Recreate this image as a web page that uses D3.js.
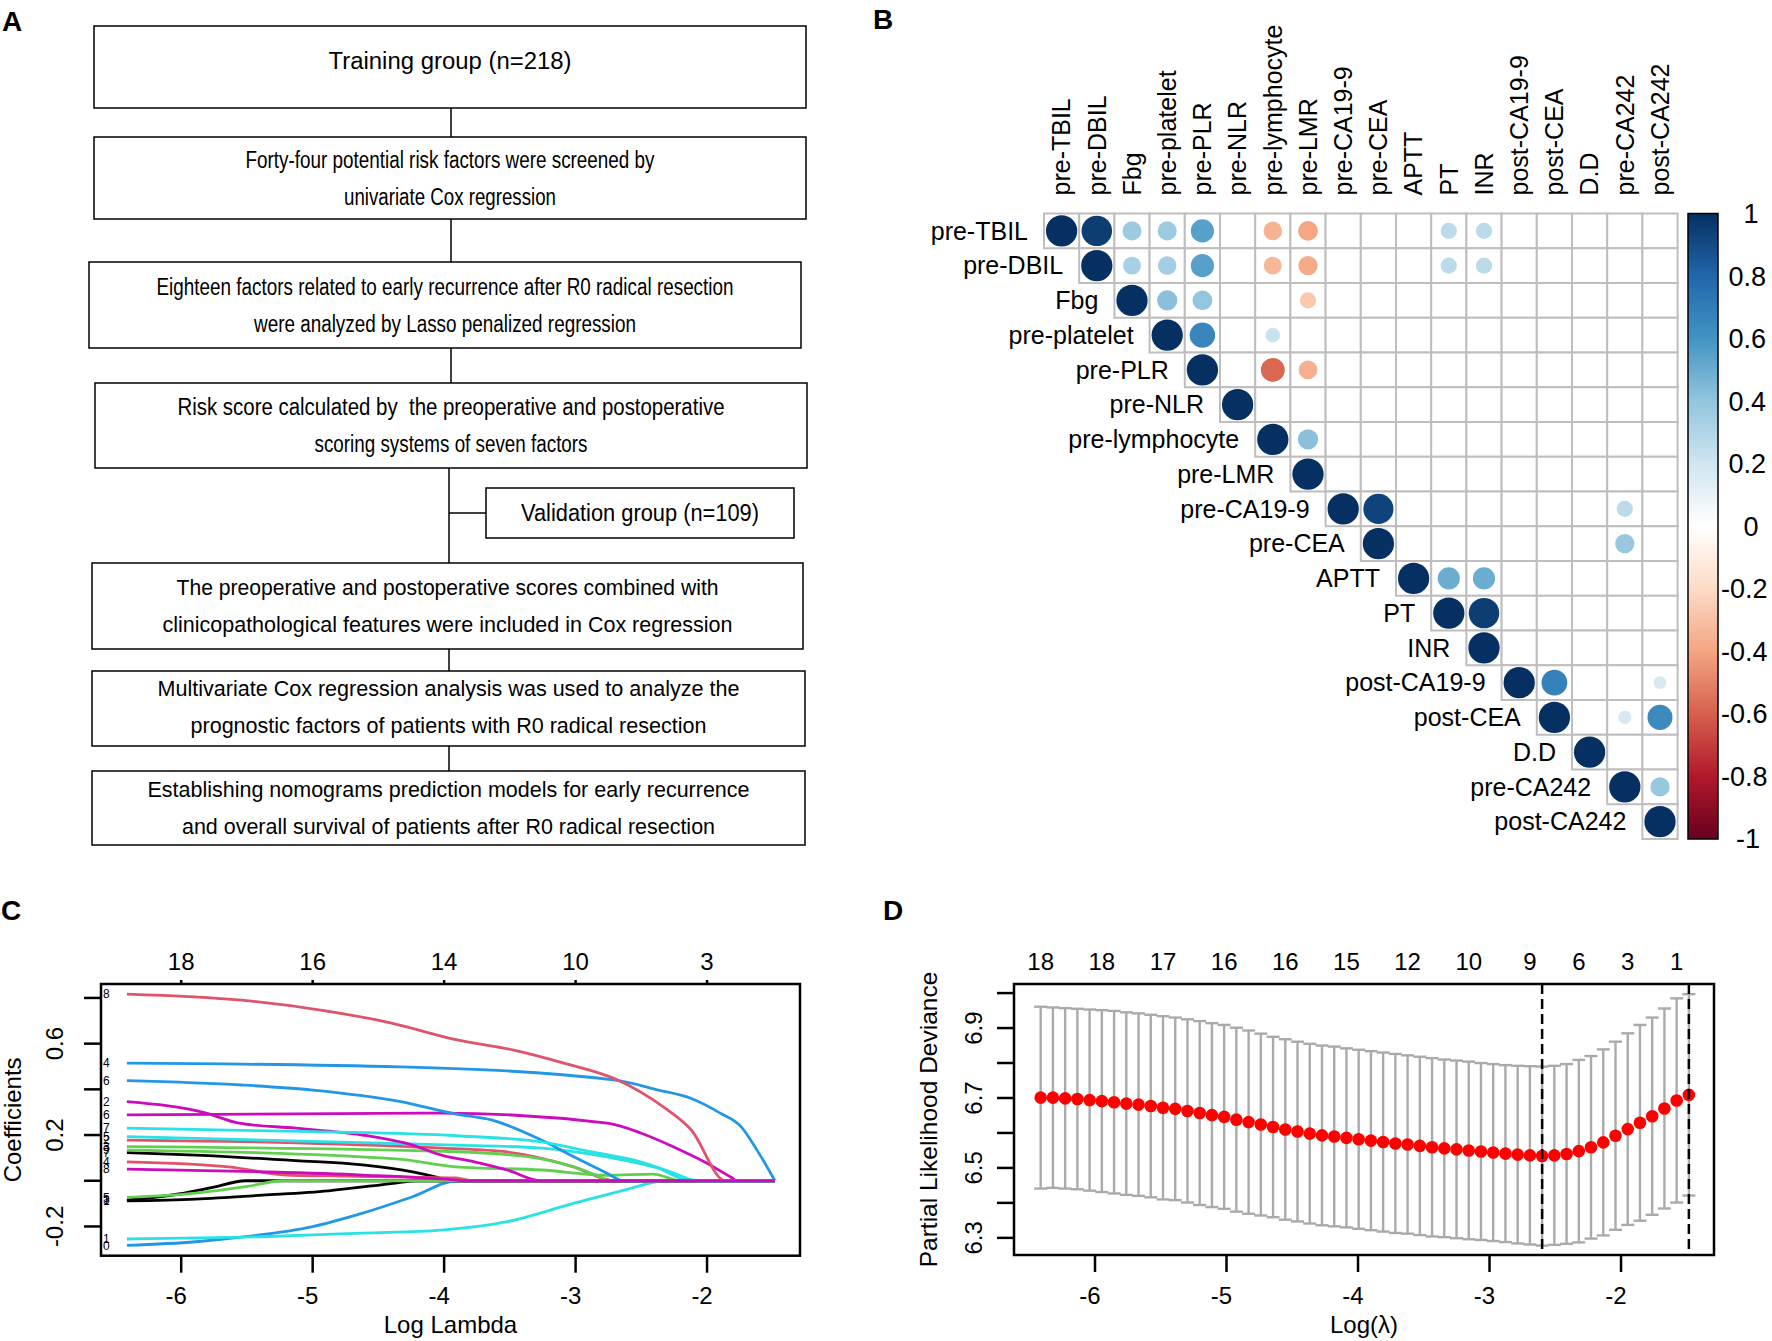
<!DOCTYPE html>
<html>
<head>
<meta charset="utf-8">
<script src="https://cdn.jsdelivr.net/npm/d3@7"></script>
<style>
  body { margin: 0; background: #fff; }
  text { font-family: "Liberation Sans", Arial, Helvetica, sans-serif; }
</style>
</head>
<body>
<svg id="fig" width="1772" height="1341"></svg>
<script>
// ---------- panel A: flowchart ----------
const flowText = [
  ["Training group (n=218)"],
  ["Forty-four potential risk factors were screened by", "univariate Cox regression"],
  ["Eighteen factors related to early recurrence after R0 radical resection", "were analyzed by Lasso penalized regression"],
  ["Risk score calculated by  the preoperative and postoperative", "scoring systems of seven factors"],
  ["Validation group (n=109)"],
  ["The preoperative and postoperative scores combined with", "clinicopathological features were included in Cox regression"],
  ["Multivariate Cox regression analysis was used to analyze the", "prognostic factors of patients with R0 radical resection"],
  ["Establishing nomograms prediction models for early recurrence", "and overall survival of patients after R0 radical resection"]
];

// ---------- panel B: correlation matrix ----------
const corrVars = ["pre-TBIL", "pre-DBIL", "Fbg", "pre-platelet", "pre-PLR", "pre-NLR",
  "pre-lymphocyte", "pre-LMR", "pre-CA19-9", "pre-CEA", "APTT", "PT", "INR",
  "post-CA19-9", "post-CEA", "D.D", "pre-CA242", "post-CA242"];
// [row, col, r] for the off-diagonal cells that show a circle
const corrCells = [
  [0, 1, 0.95], [0, 2, 0.37], [0, 3, 0.37], [0, 4, 0.55], [0, 6, -0.35], [0, 7, -0.40], [0, 11, 0.27], [0, 12, 0.27],
  [1, 2, 0.33], [1, 3, 0.35], [1, 4, 0.55], [1, 6, -0.33], [1, 7, -0.38], [1, 11, 0.27], [1, 12, 0.27],
  [2, 3, 0.42], [2, 4, 0.40], [2, 7, -0.27],
  [3, 4, 0.66], [3, 6, 0.22],
  [4, 6, -0.58], [4, 7, -0.36],
  [6, 7, 0.42],
  [8, 9, 0.93], [8, 16, 0.27],
  [9, 16, 0.38],
  [10, 11, 0.50], [10, 12, 0.50],
  [11, 12, 0.95],
  [13, 14, 0.68], [13, 17, 0.17],
  [14, 16, 0.18], [14, 17, 0.64],
  [16, 17, 0.38]
];
const corrPalette = ["#67001F", "#B2182B", "#D6604D", "#F4A582", "#FDDBC7", "#FFFFFF",
  "#D1E5F0", "#92C5DE", "#4393C3", "#2166AC", "#053061"];
const corrBreaks = [-1, -0.8, -0.6, -0.4, -0.2, 0, 0.2, 0.4, 0.6, 0.8, 1];
const colorbarTicks = [1, 0.8, 0.6, 0.4, 0.2, 0, -0.2, -0.4, -0.6, -0.8, -1];

// ---------- panel C: lasso coefficient paths ----------
const pathColors = ["#000000", "#DF536B", "#61D04F", "#2297E6", "#28E2E5", "#CD0BBC"];
const coefPaths = [
  { v: 1, lab: "1", pts: [[-6.413, -0.088], [-5.89, -0.080], [-5.38, -0.063], [-4.88, -0.044], [-4.37, -0.010], [-4.21, 0], [-1.484, 0]] },
  { v: 2, lab: "2", pts: [[-6.413, 0.178], [-5.13, 0.166], [-4.02, 0.143], [-3.52, 0.126], [-3.01, 0.060], [-2.71, 0], [-1.484, 0]] },
  { v: 3, lab: "3", pts: [[-6.413, 0.149], [-3.91, 0.127], [-3.26, 0.096], [-2.81, 0.016], [-2.75, 0], [-1.484, 0]] },
  { v: 4, lab: "4", pts: [[-6.413, 0.515], [-4.33, 0.498], [-2.71, 0.441], [-2.37, 0.397], [-2.12, 0.360], [-1.90, 0.296], [-1.74, 0.236], [-1.62, 0.134], [-1.484, 0]] },
  { v: 5, lab: "5", pts: [[-6.413, 0.193], [-3.91, 0.156], [-3.26, 0.143], [-2.76, 0.104], [-2.38, 0.056], [-2.12, 0], [-1.484, 0]] },
  { v: 6, lab: "6", pts: [[-6.413, 0.288], [-4.02, 0.296], [-2.76, 0.252], [-2.50, 0.208], [-2.25, 0.147], [-2.00, 0.077], [-1.82, 0.016], [-1.77, 0], [-1.484, 0]] },
  { v: 7, lab: "7", pts: [[-6.413, 0.123], [-5.89, 0.112], [-5.13, 0.088], [-4.62, 0.069], [-4.24, 0.039], [-4.06, 0.016], [-3.96, 0], [-1.484, 0]] },
  { v: 8, lab: "8", pts: [[-6.413, 0.817], [-5.54, 0.790], [-4.94, 0.747], [-4.40, 0.690], [-3.90, 0.616], [-3.47, 0.572], [-3.09, 0.515], [-2.68, 0.441], [-2.33, 0.322], [-2.12, 0.222], [-1.86, 0], [-1.484, 0]] },
  { v: 9, lab: "9", pts: [[-6.413, 0.134], [-4.37, 0.096], [-3.91, 0.061], [-3.26, 0.047], [-2.76, 0.024], [-2.41, 0.029], [-2.20, 0], [-1.484, 0]] },
  { v: 10, lab: "0", pts: [[-6.413, -0.283], [-5.89, -0.267], [-5.51, -0.245], [-5.00, -0.201], [-4.62, -0.142], [-4.24, -0.070], [-3.90, 0], [-1.484, 0]] },
  { v: 11, lab: "1", pts: [[-6.413, -0.255], [-5.38, -0.245], [-4.62, -0.229], [-4.02, -0.216], [-3.52, -0.179], [-3.01, -0.098], [-2.63, -0.041], [-2.38, -0.004], [-2.33, 0], [-1.484, 0]] },
  { v: 12, lab: "2", pts: [[-6.413, 0.346], [-5.81, 0.296], [-5.56, 0.252], [-5.13, 0.230], [-4.62, 0.200], [-4.24, 0.156], [-4.02, 0.112], [-3.77, 0.083], [-3.52, 0.047], [-3.26, 0], [-1.484, 0]] },
  { v: 13, lab: "3", pts: [[-6.413, -0.085], [-6.02, -0.058], [-5.76, -0.029], [-5.51, 0], [-1.484, 0]] },
  { v: 14, lab: "4", pts: [[-6.413, 0.083], [-5.64, 0.061], [-5.20, 0.025], [-4.88, 0.021], [-4.24, 0.016], [-3.91, 0.012], [-3.78, 0], [-1.484, 0]] },
  { v: 15, lab: "5", pts: [[-6.413, -0.073], [-5.89, -0.054], [-5.51, -0.026], [-5.22, 0], [-1.484, 0]] },
  { v: 16, lab: "6", pts: [[-6.413, 0.438], [-5.54, 0.419], [-5.00, 0.397], [-4.33, 0.346], [-3.91, 0.292], [-3.64, 0.266], [-3.26, 0.178], [-3.01, 0.104], [-2.76, 0.033], [-2.64, 0], [-1.484, 0]] },
  { v: 17, lab: "7", pts: [[-6.413, 0.230], [-5.00, 0.215], [-3.91, 0.197], [-3.26, 0.170], [-2.88, 0.126], [-2.50, 0.082], [-2.25, 0.033], [-2.07, 0], [-1.484, 0]] },
  { v: 18, lab: "8", pts: [[-6.413, 0.051], [-5.38, 0.039], [-4.62, 0.025], [-3.91, 0.003], [-3.85, 0], [-1.484, 0]] }
];
const cTopTicks = [-6, -5, -4, -3, -2];
const cTopLabels = [18, 16, 14, 10, 3];
const cBottomTicks = [-6, -5, -4, -3, -2];
const cYTicks = [-0.2, 0, 0.2, 0.4, 0.6, 0.8];
const cYLabels = [-0.2, 0.2, 0.6];

// ---------- panel D: cross-validation curve ----------
const logLambda = [-6.413, -6.320, -6.227, -6.134, -6.041, -5.948, -5.855, -5.762, -5.669, -5.576,
  -5.483, -5.390, -5.297, -5.204, -5.111, -5.018, -4.925, -4.832, -4.739, -4.646,
  -4.553, -4.460, -4.367, -4.274, -4.181, -4.088, -3.995, -3.902, -3.809, -3.716,
  -3.623, -3.530, -3.437, -3.344, -3.251, -3.158, -3.065, -2.972, -2.879, -2.786,
  -2.693, -2.600, -2.507, -2.414, -2.321, -2.228, -2.135, -2.042, -1.949, -1.856,
  -1.763, -1.670, -1.577, -1.484];
const cvm = [6.701, 6.701, 6.699, 6.697, 6.694, 6.691, 6.688, 6.684, 6.681, 6.677,
  6.672, 6.669, 6.663, 6.657, 6.651, 6.646, 6.638, 6.631, 6.624, 6.617,
  6.610, 6.604, 6.598, 6.593, 6.590, 6.586, 6.582, 6.578, 6.574, 6.570,
  6.567, 6.563, 6.559, 6.556, 6.553, 6.550, 6.547, 6.544, 6.541, 6.538,
  6.536, 6.534, 6.536, 6.540, 6.548, 6.559, 6.573, 6.592, 6.611, 6.629,
  6.648, 6.670, 6.693, 6.709];
const cvsd = [0.260, 0.258, 0.258, 0.258, 0.259, 0.260, 0.261, 0.261, 0.261, 0.261,
  0.262, 0.261, 0.262, 0.263, 0.263, 0.263, 0.263, 0.262, 0.260, 0.258,
  0.258, 0.257, 0.257, 0.257, 0.257, 0.256, 0.256, 0.256, 0.256, 0.256,
  0.255, 0.255, 0.255, 0.254, 0.254, 0.254, 0.253, 0.253, 0.253, 0.254,
  0.255, 0.256, 0.256, 0.257, 0.261, 0.261, 0.266, 0.269, 0.274, 0.280,
  0.282, 0.286, 0.292, 0.288];
const dfIndex = [0, 5, 10, 15, 20, 25, 30, 35, 40, 44, 48, 52];
const dfLabels = [18, 18, 17, 16, 16, 15, 12, 10, 9, 6, 3, 1];
const lambdaMinIndex = 41;
const lambda1seIndex = 53;
const dXTicks = [-6, -5, -4, -3, -2];
const dYTicks = [6.3, 6.4, 6.5, 6.6, 6.7, 6.8, 6.9, 7.0];
const dYLabels = [6.3, 6.5, 6.7, 6.9];

// =====================================================
const svg = d3.select("#fig");
svg.append("rect").attr("width", 1772).attr("height", 1341).attr("fill", "#fff");

// panel letters
const letters = [["A", 2, 31], ["B", 873, 29], ["C", 1, 920], ["D", 883, 920]];
svg.selectAll("text.letter").data(letters).join("text")
  .attr("class", "letter")
  .attr("x", d => d[1]).attr("y", d => d[2])
  .attr("font-size", 28).attr("font-weight", "bold")
  .text(d => d[0]);

// ---------- A ----------
const flowLayout = [
  { x0: 94, x1: 806, y0: 26, y1: 108, fs: 23, dy: -6, len: [243] },
  { x0: 94, x1: 806, y0: 137, y1: 219, fs: 23, dy: 0, len: [409, 212] },
  { x0: 89, x1: 801, y0: 262, y1: 348, fs: 23, dy: 0, len: [577, 382] },
  { x0: 95, x1: 807, y0: 383, y1: 468, fs: 23, dy: 0, len: [547, 273] },
  { x0: 486, x1: 794, y0: 488, y1: 538, fs: 23, dy: 0, len: [238] },
  { x0: 92, x1: 803, y0: 563, y1: 649, fs: 22, dy: 0, len: [542, 570] },
  { x0: 92, x1: 805, y0: 671, y1: 746, fs: 22, dy: -2, len: [582, 516] },
  { x0: 92, x1: 805, y0: 771, y1: 845, fs: 22, dy: 0, len: [602, 533] }
];
const gA = svg.append("g");
const connectors = [
  [451, 108, 451, 137], [451, 219, 451, 262], [451, 348, 451, 383],
  [449, 468, 449, 563], [449, 513, 486, 513], [449, 649, 449, 671], [449, 746, 449, 771]
];
gA.selectAll("line").data(connectors).join("line")
  .attr("x1", d => d[0]).attr("y1", d => d[1]).attr("x2", d => d[2]).attr("y2", d => d[3])
  .attr("stroke", "#000").attr("stroke-width", 1.5);

flowLayout.forEach((b, i) => {
  gA.append("rect")
    .attr("x", b.x0).attr("y", b.y0).attr("width", b.x1 - b.x0).attr("height", b.y1 - b.y0)
    .attr("fill", "#fff").attr("stroke", "#000").attr("stroke-width", 1.5);
  const lines = flowText[i];
  const cy = (b.y0 + b.y1) / 2 + b.dy;
  const cx = (b.x0 + b.x1) / 2;
  lines.forEach((t, k) => {
    const yy = lines.length === 1 ? cy : cy + (k === 0 ? -18.5 : 18.5);
    gA.append("text")
      .attr("x", cx).attr("y", yy).attr("dy", "0.35em")
      .attr("text-anchor", "middle")
      .attr("font-size", b.fs)
      .style("white-space", "pre")
      .attr("textLength", b.len[k]).attr("lengthAdjust", "spacingAndGlyphs")
      .text(t);
  });
});

// ---------- B ----------
const n = corrVars.length;
const B = { left: 1044, top: 213.5, cw: 35.2, ch: 34.75 };
const bx = d3.scaleBand().domain(d3.range(n)).range([B.left, B.left + n * B.cw]);
const by = d3.scaleBand().domain(d3.range(n)).range([B.top, B.top + n * B.ch]);
const corrColor = d3.scaleLinear().domain(corrBreaks).range(corrPalette);
const rSize = d3.scaleSqrt().domain([0, 1]).range([0, 0.45 * Math.min(B.cw, B.ch)]);

const upper = [];
for (let i = 0; i < n; i++) for (let j = i; j < n; j++) upper.push([i, j]);
const gB = svg.append("g");
gB.selectAll("rect.cell").data(upper).join("rect")
  .attr("class", "cell")
  .attr("x", d => bx(d[1])).attr("y", d => by(d[0]))
  .attr("width", bx.bandwidth()).attr("height", by.bandwidth())
  .attr("fill", "#fff").attr("stroke", "#BEBEBE").attr("stroke-width", 2);

const circles = corrVars.map((v, i) => [i, i, 1]).concat(corrCells);
gB.selectAll("circle").data(circles).join("circle")
  .attr("cx", d => bx(d[1]) + bx.bandwidth() / 2)
  .attr("cy", d => by(d[0]) + by.bandwidth() / 2)
  .attr("r", d => rSize(Math.abs(d[2])))
  .attr("fill", d => corrColor(d[2]));

// row labels
gB.selectAll("text.row").data(corrVars).join("text")
  .attr("class", "row")
  .attr("x", (d, i) => bx(i) - 16)
  .attr("y", (d, i) => by(i) + by.bandwidth() / 2)
  .attr("dy", "0.35em").attr("text-anchor", "end").attr("font-size", 25)
  .text(d => d);
// column labels
gB.selectAll("text.col").data(corrVars).join("text")
  .attr("class", "col")
  .attr("transform", (d, i) => `translate(${bx(i) + bx.bandwidth() / 2},${B.top - 18}) rotate(-90)`)
  .attr("dy", "0.35em").attr("text-anchor", "start").attr("font-size", 25)
  .text(d => d);

// colour bar
const bar = { x0: 1688, x1: 1718, y0: B.top, y1: B.top + n * B.ch };
const barY = d3.scaleLinear().domain([-1, 1]).range([bar.y1, bar.y0]);
const grad = svg.append("defs").append("linearGradient")
  .attr("id", "cbar").attr("x1", 0).attr("y1", 1).attr("x2", 0).attr("y2", 0);
grad.selectAll("stop").data(corrBreaks).join("stop")
  .attr("offset", d => (d + 1) / 2)
  .attr("stop-color", d => corrColor(d));
gB.append("rect")
  .attr("x", bar.x0).attr("y", bar.y0).attr("width", bar.x1 - bar.x0).attr("height", bar.y1 - bar.y0)
  .attr("fill", "url(#cbar)").attr("stroke", "#000").attr("stroke-width", 1.5);
gB.selectAll("text.cb").data(colorbarTicks).join("text")
  .attr("class", "cb")
  .attr("x", 1721).attr("y", d => barY(d)).attr("dy", "0.35em")
  .attr("font-size", 27).style("white-space", "pre")
  .text(d => String(d).padStart(4, " "));

// ---------- helpers for axes ----------
function box(g, x0, x1, y0, y1) {
  g.append("rect").attr("x", x0).attr("y", y0).attr("width", x1 - x0).attr("height", y1 - y0)
    .attr("fill", "none").attr("stroke", "#000").attr("stroke-width", 2.5);
}
function bottomAxis(g, x, vals, yb) {
  g.selectAll(null).data(vals).join("line")
    .attr("x1", d => x(d)).attr("x2", d => x(d)).attr("y1", yb).attr("y2", yb + 17)
    .attr("stroke", "#000").attr("stroke-width", 2.5);
  g.selectAll(null).data(vals).join("text")
    .attr("x", d => x(d) - 5).attr("y", 1304).attr("text-anchor", "middle").attr("font-size", 24)
    .text(d => String(d));
}
function leftAxis(g, y, vals, labs, xl, labX) {
  g.selectAll(null).data(vals).join("line")
    .attr("x1", xl - 17).attr("x2", xl).attr("y1", d => y(d)).attr("y2", d => y(d))
    .attr("stroke", "#000").attr("stroke-width", 2.5);
  g.selectAll(null).data(labs).join("text")
    .attr("transform", d => `translate(${labX},${y(d)}) rotate(-90)`)
    .attr("text-anchor", "middle").attr("font-size", 24)
    .text(d => String(d));
}

// ---------- C ----------
const C = { x0: 101, x1: 800, y0: 984, y1: 1255.7 };
const cX = d3.scaleLinear().domain([-6.61, -1.293]).range([C.x0, C.x1]);
const cY = d3.scaleLinear().domain([-0.328, 0.861]).range([C.y1, C.y0]);
const gC = svg.append("g");
const coefLine = d3.line().x(d => cX(d[0])).y(d => cY(d[1])).curve(d3.curveMonotoneX);
gC.selectAll("path.coef").data(coefPaths).join("path")
  .attr("class", "coef")
  .attr("d", d => coefLine(d.pts))
  .attr("fill", "none")
  .attr("stroke", d => pathColors[(d.v - 1) % 6])
  .attr("stroke-width", 2.8);
gC.selectAll("text.vlab").data(coefPaths).join("text")
  .attr("class", "vlab")
  .attr("x", C.x0 + 2).attr("y", d => cY(d.pts[0][1])).attr("dy", "0.35em")
  .attr("font-size", 12)
  .text(d => d.lab);
box(gC, C.x0, C.x1, C.y0, C.y1);
bottomAxis(gC, cX, cBottomTicks, C.y1);
leftAxis(gC, cY, cYTicks, cYLabels, C.x0, 63);
gC.selectAll("line.top").data(cTopTicks).join("line")
  .attr("class", "top")
  .attr("x1", d => cX(d)).attr("x2", d => cX(d)).attr("y1", C.y0 - 4).attr("y2", C.y0)
  .attr("stroke", "#000").attr("stroke-width", 2.5);
gC.selectAll("text.top").data(cTopTicks).join("text")
  .attr("class", "top")
  .attr("x", d => cX(d)).attr("y", 970).attr("text-anchor", "middle").attr("font-size", 24)
  .text((d, i) => cTopLabels[i]);
gC.append("text").attr("x", (C.x0 + C.x1) / 2).attr("y", 1333)
  .attr("text-anchor", "middle").attr("font-size", 24).text("Log Lambda");
gC.append("text").attr("transform", `translate(21,${(C.y0 + C.y1) / 2}) rotate(-90)`)
  .attr("text-anchor", "middle").attr("font-size", 24).text("Coefficients");

// ---------- D ----------
const D = { x0: 1014, x1: 1714, y0: 984, y1: 1255 };
const dX = d3.scaleLinear().domain([-6.616, -1.293]).range([D.x0, D.x1]);
const dY = d3.scaleLinear().domain([6.251, 7.026]).range([D.y1, D.y0]);
const gD = svg.append("g");
const cv = logLambda.map((l, i) => ({ l, m: cvm[i], lo: cvm[i] - cvsd[i], hi: cvm[i] + cvsd[i] }));
const barG = gD.append("g").attr("stroke", "#AAAAAA").attr("stroke-width", 2.4);
barG.selectAll("line.v").data(cv).join("line")
  .attr("class", "v")
  .attr("x1", d => dX(d.l)).attr("x2", d => dX(d.l))
  .attr("y1", d => dY(d.lo)).attr("y2", d => dY(d.hi));
barG.selectAll("line.hi").data(cv).join("line")
  .attr("class", "hi")
  .attr("x1", d => dX(d.l) - 6.5).attr("x2", d => dX(d.l) + 6.5)
  .attr("y1", d => dY(d.hi)).attr("y2", d => dY(d.hi));
barG.selectAll("line.lo").data(cv).join("line")
  .attr("class", "lo")
  .attr("x1", d => dX(d.l) - 6.5).attr("x2", d => dX(d.l) + 6.5)
  .attr("y1", d => dY(d.lo)).attr("y2", d => dY(d.lo));
gD.selectAll("circle").data(cv).join("circle")
  .attr("cx", d => dX(d.l)).attr("cy", d => dY(d.m)).attr("r", 6.3)
  .attr("fill", "#FF0000");
gD.selectAll("line.sel").data([lambdaMinIndex, lambda1seIndex]).join("line")
  .attr("class", "sel")
  .attr("x1", d => dX(logLambda[d])).attr("x2", d => dX(logLambda[d]))
  .attr("y1", D.y0).attr("y2", D.y1)
  .attr("stroke", "#000").attr("stroke-width", 2.5).attr("stroke-dasharray", "10,5");
box(gD, D.x0, D.x1, D.y0, D.y1);
bottomAxis(gD, dX, dXTicks, D.y1);
leftAxis(gD, dY, dYTicks, dYLabels, D.x0, 982);
gD.selectAll("text.top").data(dfIndex).join("text")
  .attr("class", "top")
  .attr("x", d => dX(logLambda[d])).attr("y", 970).attr("text-anchor", "middle").attr("font-size", 24)
  .text((d, i) => dfLabels[i]);
gD.append("text").attr("x", (D.x0 + D.x1) / 2).attr("y", 1333)
  .attr("text-anchor", "middle").attr("font-size", 24).text("Log(λ)");
gD.append("text").attr("transform", `translate(937,${(D.y0 + D.y1) / 2}) rotate(-90)`)
  .attr("text-anchor", "middle").attr("font-size", 24.5).text("Partial Likelihood Deviance");
</script>
</body>
</html>
